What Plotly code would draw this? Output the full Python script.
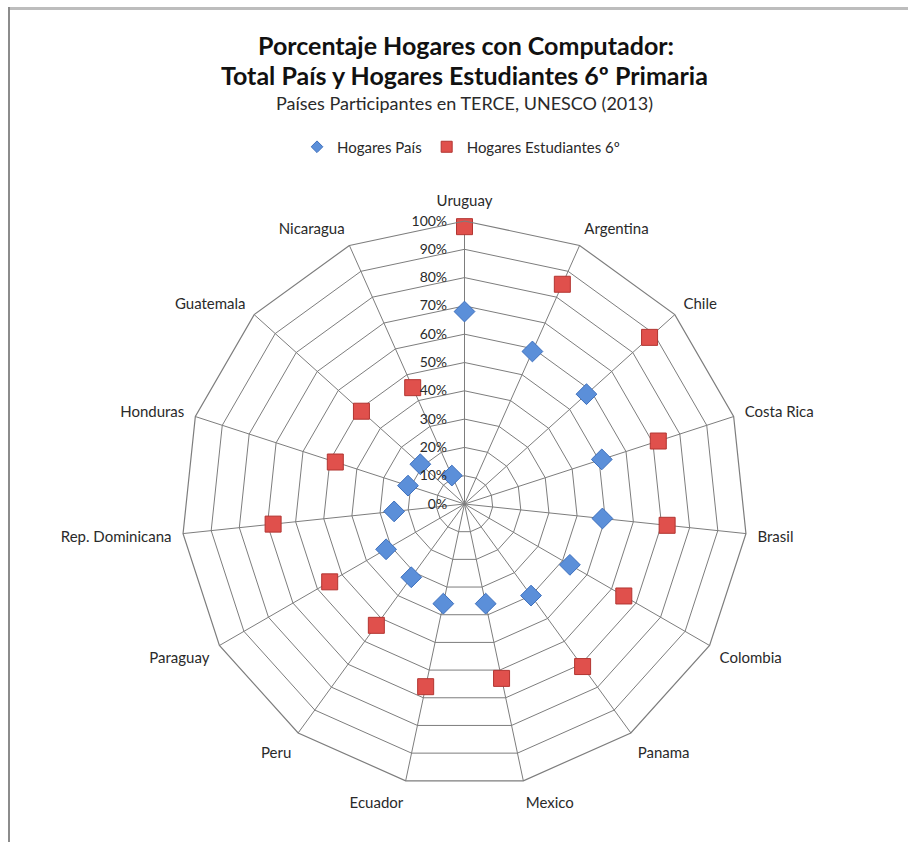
import plotly.graph_objects as go

countries = ["Uruguay", "Argentina", "Chile", "Costa Rica", "Brasil", "Colombia", "Panama",
             "Mexico", "Ecuador", "Peru", "Paraguay", "Rep. Dominicana", "Honduras",
             "Guatemala", "Nicaragua"]
hogares_pais = [0.68, 0.59, 0.58, 0.51, 0.49, 0.43, 0.40, 0.36, 0.36, 0.32, 0.32, 0.25, 0.21, 0.21, 0.11]
hogares_est6 = [0.98, 0.85, 0.88, 0.72, 0.72, 0.65, 0.71, 0.63, 0.66, 0.53, 0.55, 0.68, 0.48, 0.49, 0.45]
radial_ticks = [0, 0.1, 0.2, 0.3, 0.4, 0.5, 0.6, 0.7, 0.8, 0.9, 1.0]

FONT = "Lato, Open Sans, sans-serif"
GRID = "#7d7d7d"
TXT = "#2a2a2a"
BLUE, BLUE_LINE = "#5b8fd9", "#3d6fbd"
RED, RED_LINE = "#e0504c", "#b23531"

fig = go.Figure()
fig.add_trace(go.Scatterpolar(
    r=hogares_pais, theta=countries, mode="markers", name="Hogares País", showlegend=False,
    marker=dict(symbol="diamond", size=16, color=BLUE, line=dict(color=BLUE_LINE, width=1)),
))
fig.add_trace(go.Scatterpolar(
    r=hogares_est6, theta=countries, mode="markers", name="Hogares Estudiantes 6º", showlegend=False,
    marker=dict(symbol="square", size=16, color=RED, line=dict(color=RED_LINE, width=1)),
))
# legend-only entries with smaller symbols
fig.add_trace(go.Scatterpolar(
    r=[None], theta=[countries[0]], mode="markers", name="Hogares País", showlegend=True,
    marker=dict(symbol="diamond", size=9, color=BLUE, line=dict(color=BLUE_LINE, width=1)),
))
fig.add_trace(go.Scatterpolar(
    r=[None], theta=[countries[0]], mode="markers", name="Hogares Estudiantes 6º", showlegend=True,
    marker=dict(symbol="square", size=11, color=RED, line=dict(color=RED_LINE, width=1)),
))

cx, cy, R = 464.5, 504, 283
W, H = 908, 842
fig.update_layout(
    width=W, height=H,
    margin=dict(l=0, r=0, t=0, b=0),
    paper_bgcolor="white",
    plot_bgcolor="white",
    font=dict(family=FONT, color=TXT, size=15),
    annotations=[
        dict(text="<b>Porcentaje Hogares con Computador:</b>", xref="paper", yref="paper",
             x=466 / W, y=1 - 45 / H, xanchor="center", yanchor="middle", showarrow=False,
             font=dict(family=FONT, size=25, color="#111111")),
        dict(text="<b>Total País y Hogares Estudiantes 6º Primaria</b>", xref="paper", yref="paper",
             x=464 / W, y=1 - 75 / H, xanchor="center", yanchor="middle", showarrow=False,
             font=dict(family=FONT, size=25, color="#111111")),
        dict(text="Países Participantes en TERCE, UNESCO (2013)", xref="paper", yref="paper",
             x=464 / W, y=1 - 103 / H, xanchor="center", yanchor="middle", showarrow=False,
             font=dict(family=FONT, size=18, color=TXT)),
    ],
    showlegend=True,
    legend=dict(orientation="h", x=461 / W, xanchor="center", y=1 - 147 / H, yanchor="middle",
                font=dict(family=FONT, size=15, color=TXT), itemwidth=30, bgcolor="rgba(0,0,0,0)"),
    polar=dict(
        domain=dict(x=[(cx - R) / W, (cx + R) / W], y=[(H - cy - R) / H, (H - cy + R) / H]),
        gridshape="linear",
        bgcolor="white",
        angularaxis=dict(
            direction="clockwise", rotation=90,
            showgrid=True, gridcolor=GRID, gridwidth=1.2,
            showline=True, linecolor=GRID, linewidth=1.2,
            ticks="outside", ticklen=8, tickcolor="rgba(0,0,0,0)",
            tickfont=dict(family=FONT, size=15, color=TXT),
        ),
        radialaxis=dict(
            range=[0, 1], tickvals=radial_ticks, tickformat=".0%",
            angle=90, tickangle=90, side="counterclockwise",
            showgrid=True, gridcolor=GRID, gridwidth=1.2,
            showline=False, ticks="outside", ticklen=12, tickcolor="rgba(0,0,0,0)",
            tickfont=dict(family=FONT, size=14, color=TXT),
        ),
    ),
    shapes=[
        dict(type="line", xref="paper", yref="paper", x0=9 / W, x1=1, y0=1 - 8.5 / H, y1=1 - 8.5 / H,
             line=dict(color="#bdbdbd", width=3)),
        dict(type="line", xref="paper", yref="paper", x0=9 / W, x1=9 / W, y0=0, y1=1 - 7 / H,
             line=dict(color="#8c8c8c", width=2)),
    ],
)

fig.write_html("out.html")
